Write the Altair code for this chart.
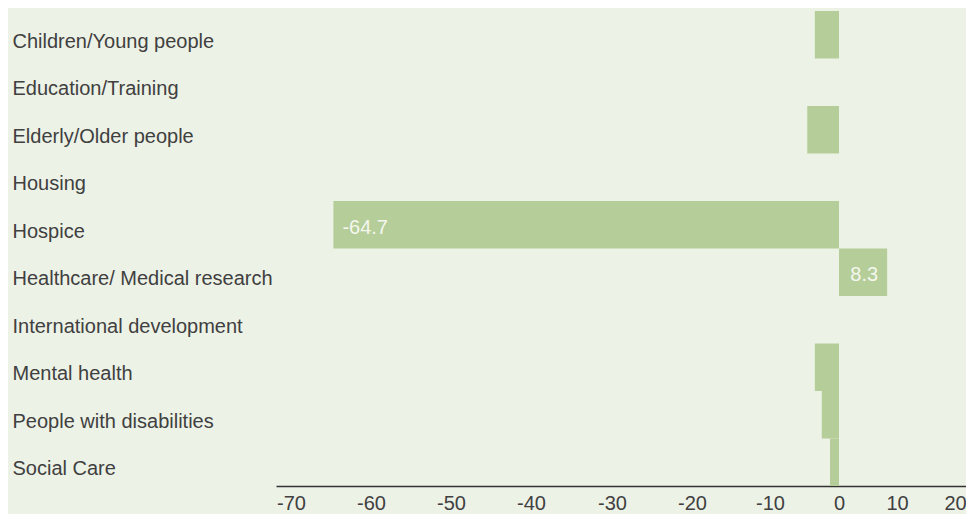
import altair as alt
import pandas as pd

# ---- data ----
categories = [
    "Children/Young people",
    "Education/Training",
    "Elderly/Older people",
    "Housing",
    "Hospice",
    "Healthcare/ Medical research",
    "International development",
    "Mental health",
    "People with disabilities",
    "Social Care",
]
values = [-3.5, None, -4.6, None, -64.7, 8.3, None, -3.5, -2.5, -1.3]
bar_labels = [None, None, None, None, "-64.7", "8.3", None, None, None, None]

tick_values = [-70, -60, -50, -40, -30, -20, -10, 0, 10, 20]
# piecewise axis as drawn in the reference
scale_domain = [-71.875, -70, -60, -50, -40, -30, -20, -10, 0, 10, 20, 21.8]
scale_range = [0, 15, 95, 175, 255, 336, 416, 494, 563, 621, 679, 690]

df = pd.DataFrame({"category": categories, "value": values, "label": bar_labels})

BG = "#EDF2E7"
BAR = "#B5CD98"
TEXT = "#404040"
FONT = "Liberation Sans"

x_scale = alt.Scale(domain=scale_domain, range=scale_range, nice=False, zero=False)
y_scale = alt.Scale(domain=categories, paddingInner=0, paddingOuter=0)

x_enc = alt.X(
    "value:Q",
    scale=x_scale,
    axis=alt.Axis(
        values=tick_values,
        labelExpr="datum.value + ''",
        title=None,
        grid=False,
        ticks=False,
        labelFontSize=20,
        labelFont=FONT,
        labelColor=TEXT,
        labelPadding=7,
        labelFlush=False,
        labelOverlap=False,
        domainColor="#333333",
        domainWidth=1.5,
    ),
)
y_enc = alt.Y(
    "category:N",
    sort=categories,
    scale=y_scale,
    axis=alt.Axis(
        title=None,
        ticks=False,
        domain=False,
        grid=False,
        labelAlign="left",
        labelBaseline="middle",
        labelPadding=264,
        labelLimit=400,
        labelFontSize=20,
        labelFont=FONT,
        labelColor=TEXT,
        labelOffset=7,
    ),
)

base = alt.Chart(df)

bars = base.mark_bar(color=BAR).encode(x=x_enc, x2=alt.datum(0), y=y_enc)

neg_text = (
    base.transform_filter("datum.label != null && datum.value < 0")
    .mark_text(align="left", baseline="middle", dx=9, dy=3, fontSize=20,
               font=FONT, color="#F4F7EF")
    .encode(x=alt.X("value:Q", scale=x_scale), y=alt.Y("category:N", scale=y_scale),
            text="label:N")
)
pos_text = (
    base.transform_filter("datum.label != null && datum.value > 0")
    .mark_text(align="right", baseline="middle", dx=-9, dy=3, fontSize=20,
               font=FONT, color="#F4F7EF")
    .encode(x=alt.X("value:Q", scale=x_scale), y=alt.Y("category:N", scale=y_scale),
            text="label:N")
)

chart = (
    alt.layer(bars, neg_text, pos_text)
    .properties(
        width=690,
        height=475,
        autosize=alt.AutoSizeParams(type="none"),
        padding={"left": 268, "top": 3, "right": 0, "bottom": 28},
        background=BG,
    )
    .configure_view(stroke=None)
)

chart.save("out.html", embed_options={"renderer": "svg", "actions": False})
